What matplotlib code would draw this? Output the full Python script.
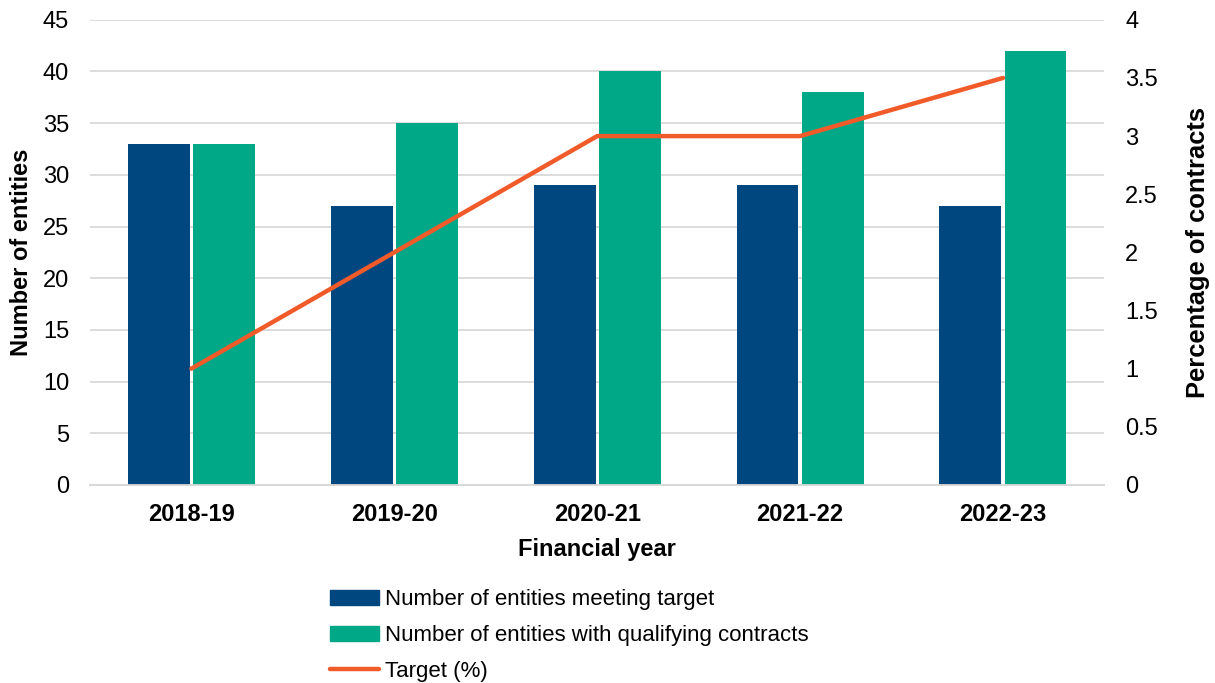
import numpy as np
import matplotlib.pyplot as plt
from matplotlib.patches import Patch
from matplotlib.lines import Line2D

plt.rcParams['font.family'] = ['Liberation Sans', 'DejaVu Sans']

years = ['2018-19', '2019-20', '2020-21', '2021-22', '2022-23']
meeting_target = [33, 27, 29, 29, 27]
qualifying = [33, 35, 40, 38, 42]
target_pct = [1, 2, 3, 3, 3.5]

navy = '#00467F'
green = '#00A887'
orange = '#F15A29'

fig = plt.figure(figsize=(12.15, 6.83), dpi=100)
ax = fig.add_axes([0.074, 0.29, 0.835, 0.681])
ax2 = ax.twinx()

x = np.arange(len(years))
w = 0.305
gap = 0.016
ax.bar(x - w / 2 - gap / 2, meeting_target, w, color=navy, zorder=3)
ax.bar(x + w / 2 + gap / 2, qualifying, w, color=green, zorder=3)
ax2.plot(x, target_pct, color=orange, lw=3.2, solid_capstyle='round', zorder=4)

ax.set_xlim(-0.5, len(years) - 0.5)
ax.set_ylim(0, 45)
ax.set_yticks(range(0, 46, 5))
ax2.set_ylim(0, 4)
ax2.set_yticks(np.arange(0, 4.01, 0.5))
ax2.set_yticklabels(['0', '0.5', '1', '1.5', '2', '2.5', '3', '3.5', '4'])

ax.grid(axis='y', color='#D9D9D9', lw=1.3, zorder=0)
ax.set_axisbelow(True)
for a in (ax, ax2):
    for s in ['top', 'left', 'right']:
        a.spines[s].set_visible(False)
    a.spines['bottom'].set_color('#D9D9D9')
    a.spines['bottom'].set_linewidth(1.3)
    a.tick_params(length=0, labelsize=17)

ax.tick_params(axis='y', pad=15)
ax2.tick_params(axis='y', pad=15)
ax.set_xticks(x)
ax.set_xticklabels(years, fontweight='bold', fontsize=17)
ax.tick_params(axis='x', pad=13)

ax.set_xlabel('Financial year', fontweight='bold', fontsize=17, labelpad=9)
ax.set_ylabel('Number of entities', fontweight='bold', fontsize=17, labelpad=7)
ax2.set_ylabel('Percentage of contracts', fontweight='bold', fontsize=18.4, labelpad=20)

handles = [Patch(color=navy), Patch(color=green),
           Line2D([0], [0], color=orange, lw=3.2, solid_capstyle='round')]
labels = ['Number of entities meeting target',
          'Number of entities with qualifying contracts',
          'Target (%)']
fig.legend(handles, labels, loc='upper left', bbox_to_anchor=(0.272, 0.137),
           frameon=False, fontsize=16, handlelength=2.2, handleheight=0.7,
           handletextpad=0.25, labelspacing=0.66, borderpad=0, borderaxespad=0)

fig.savefig('out.png', dpi=100)
